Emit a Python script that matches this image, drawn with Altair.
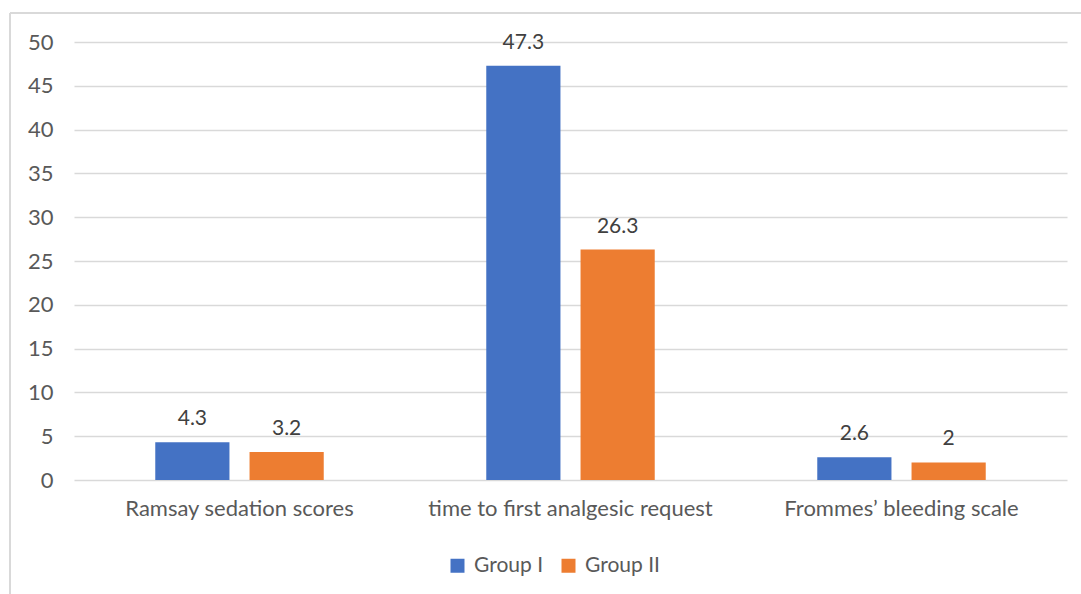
import altair as alt
import pandas as pd

categories = ["Ramsay sedation scores", "time to first analgesic request", "Frommes\u2019 bleeding scale"]
group1 = [4.3, 47.3, 2.6]
group2 = [3.2, 26.3, 2]
groups = ["Group I", "Group II"]
colors = ["#4472C4", "#ED7D31"]
y_ticks = [0, 5, 10, 15, 20, 25, 30, 35, 40, 45, 50]

rows = []
for c, a, b in zip(categories, group1, group2):
    rows.append({"cat": c, "group": groups[0], "value": a, "label": f"{a:g}"})
    rows.append({"cat": c, "group": groups[1], "value": b, "label": f"{b:g}"})
df = pd.DataFrame(rows)

FONT = "Lato"
TXT = "#595959"
FS = 22

x = alt.X("cat:N", sort=categories, title=None,
          scale=alt.Scale(paddingInner=0, paddingOuter=0),
          axis=alt.Axis(labelAngle=0, labelFontSize=FS, labelFont=FONT, labelColor=TXT,
                        labelLimit=0, domain=False, ticks=False, labelPadding=18))
xo = alt.XOffset("group:N", sort=groups,
                 scale=alt.Scale(paddingInner=0.213, paddingOuter=0.862))
y = alt.Y("value:Q", title=None,
          scale=alt.Scale(domain=[0, 50], nice=False),
          axis=alt.Axis(values=y_ticks, labelFontSize=FS, labelFont=FONT, labelColor=TXT,
                        domain=False, ticks=False, labelPadding=21,
                        gridColor="#D9D9D9", gridWidth=1.3))

bars = alt.Chart(df).mark_bar().encode(
    x=x, xOffset=xo, y=y,
    color=alt.Color("group:N", sort=groups,
                    scale=alt.Scale(domain=groups, range=colors),
                    legend=alt.Legend(title=None, orient="none", direction="horizontal",
                                      legendX=373, legendY=513, labelFontSize=21,
                                      labelFont=FONT, labelColor=TXT, symbolType="square",
                                      symbolSize=196, symbolStrokeWidth=0,
                                      columnPadding=14, labelOffset=6)),
)

labels = alt.Chart(df).mark_text(dy=-17, baseline="alphabetic", fontSize=21,
                                 font=FONT, color="#404040").encode(
    x=x, xOffset=xo, y=y, text="label:N")

border_left = alt.Chart(df).mark_rule(color="#D9D9D9", strokeWidth=1.5).encode(
    x=alt.value(-64), y=alt.value(-29), y2=alt.value(620))
border_top = alt.Chart(df).mark_rule(color="#D9D9D9", strokeWidth=1.5).encode(
    x=alt.value(-64), x2=alt.value(1020), y=alt.value(-29))

chart = alt.layer(border_left, border_top, bars, labels).properties(
    width=993, height=438,
    autosize=alt.AutoSizeParams(type="none"),
    padding={"left": 74, "top": 42, "right": 14, "bottom": 114},
    background="white",
).configure_view(stroke=None)

chart.save("out.html", embed_options={"renderer": "svg", "actions": False})
